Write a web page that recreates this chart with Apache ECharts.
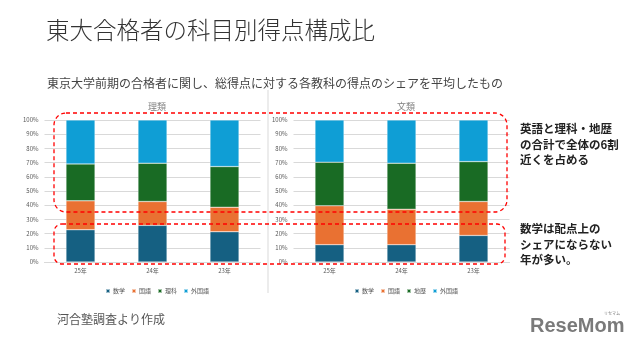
<!DOCTYPE html>
<html><head><meta charset="utf-8">
<script src="https://cdn.jsdelivr.net/npm/echarts@6/dist/echarts.min.js"></script>
<style>html,body{margin:0;padding:0;background:#fff}#c{width:640px;height:347px}</style>
</head><body><div id="c"></div>
<script>
const categories = ['25年', '24年', '23年'];
const yTicks = ['0%','10%','20%','30%','40%','50%','60%','70%','80%','90%','100%'];
// 理類
const riMath = [22.7, 25.8, 21.3];
const riJapanese = [20.4, 16.8, 17.3];
const riScience = [26.0, 27.0, 28.6];
const riForeign = [30.9, 30.4, 32.8];
// 文類
const bunMath = [12.2, 12.2, 18.7];
const bunJapanese = [27.4, 25.0, 23.9];
const bunSocial = [30.7, 32.4, 28.1];
const bunForeign = [29.7, 30.4, 29.3];

const C = {math:'#156082', jp:'#E97132', sci:'#196B24', fr:'#0F9ED5'};
const FONT = '"Noto Sans CJK JP", "Noto Sans", sans-serif';
const chart = echarts.init(document.getElementById('c'));

function bar(name, data, idx, color){
  return {name, type:'bar', stack:'s'+idx, xAxisIndex:idx, yAxisIndex:idx, data, barWidth:29,
    itemStyle:{color, borderColor:'rgba(255,255,255,0.6)', borderWidth:0.5}};
}
function xAx(i){return {type:'category', gridIndex:i, data:categories,
  axisLine:{show:true, lineStyle:{color:'#d9d9d9'}}, axisTick:{show:false},
  axisLabel:{color:'#595959', fontSize:6, fontFamily:FONT, margin:6}};}
function yAx(i){return {type:'value', gridIndex:i, min:0, max:100, interval:10,
  axisLine:{show:false}, axisTick:{show:false},
  splitLine:{lineStyle:{color:'#d9d9d9', width:1}},
  axisLabel:{color:'#595959', fontSize:6, fontFamily:FONT, margin:6, formatter:v=>yTicks[Math.round(v/10)]}};}

chart.setOption({
  animation:false,
  textStyle:{fontFamily:FONT},
  title:[
    {text:'東大合格者の科目別得点構成比', left:41, top:13, textStyle:{fontSize:23.5, fontWeight:300, color:'#333', fontFamily:'"Noto Sans CJK JP Light", "Noto Sans CJK JP", sans-serif'}},
    {text:'東京大学前期の合格者に関し、総得点に対する各教科の得点のシェアを平均したもの', left:42, top:72, textStyle:{fontSize:12, fontWeight:'normal', color:'#444', fontFamily:FONT}},
    {text:'理類', left:152, top:97, textAlign:'center', textStyle:{fontSize:9, fontWeight:'normal', color:'#7f7f7f', fontFamily:FONT}},
    {text:'文類', left:401, top:97, textAlign:'center', textStyle:{fontSize:9, fontWeight:'normal', color:'#7f7f7f', fontFamily:FONT}},
    {text:'河合塾調査より作成', left:52, top:308, textStyle:{fontSize:12, fontWeight:'normal', color:'#555', fontFamily:FONT}}
  ],
  legend:[
    {left:100, top:283, itemWidth:4, itemHeight:4, itemGap:6, icon:'rect', textStyle:{fontSize:6, color:'#595959', padding:[0,0,0,-2]},
     data:['数学','国語','理科','外国語']},
    {left:349, top:283, itemWidth:4, itemHeight:4, itemGap:6, icon:'rect', textStyle:{fontSize:6, color:'#595959', padding:[0,0,0,-2]},
     data:['数学','国語','地歴','外国語']}
  ],
  grid:[
    {left:44.5, width:216, top:120, height:142},
    {left:293.5, width:216, top:120, height:142}
  ],
  xAxis:[xAx(0), xAx(1)],
  yAxis:[yAx(0), yAx(1)],
  series:[
    bar('数学', riMath, 0, C.math), bar('国語', riJapanese, 0, C.jp), bar('理科', riScience, 0, C.sci), bar('外国語', riForeign, 0, C.fr),
    bar('数学', bunMath, 1, C.math), bar('国語', bunJapanese, 1, C.jp), bar('地歴', bunSocial, 1, C.sci), bar('外国語', bunForeign, 1, C.fr)
  ],
  graphic:[
    {type:'line', shape:{x1:268, y1:90, x2:268, y2:293}, style:{stroke:'#d9d9d9', lineWidth:1}},
    {type:'rect', shape:{x:54, y:113, width:453, height:99, r:12}, style:{fill:null, stroke:'#ff0000', lineWidth:1.3, lineDash:[4,3]}, z:100},
    {type:'rect', shape:{x:54, y:224, width:451, height:40, r:8}, style:{fill:null, stroke:'#ff0000', lineWidth:1.3, lineDash:[4,3]}, z:100},
    {type:'text', left:520, top:121, style:{text:'英語と理科・地歴\nの合計で全体の6割\n近くを占める', lineHeight:15.5, fill:'#222', font:'bold 11.5px "Noto Sans CJK JP"'}},
    {type:'text', left:520, top:221, style:{text:'数学は配点上の\nシェアにならない\n年が多い。', lineHeight:15.5, fill:'#222', font:'bold 11.5px "Noto Sans CJK JP"'}},
    {type:'text', left:530, top:316, style:{text:'ReseMom', font:'bold 20px "Liberation Sans"', fill:'#7a7a7a'}},
    {type:'text', left:604, top:311, style:{text:'リセマム', font:'4px "Noto Sans CJK JP"', fill:'#7a7a7a'}}
  ]
});
</script></body></html>
